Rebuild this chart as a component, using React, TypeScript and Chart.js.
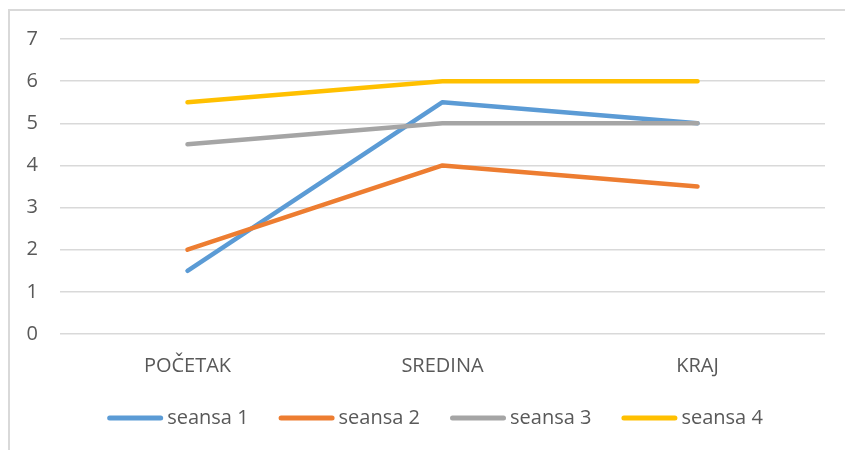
import React, { useEffect, useRef } from "react";
import { Chart, registerables } from "chart.js";

Chart.register(...registerables);

const categories = ["POČETAK", "SREDINA", "KRAJ"];
const seriesNames = ["seansa 1", "seansa 2", "seansa 3", "seansa 4"];
const seansa1 = [1.5, 5.5, 5];
const seansa2 = [2, 4, 3.5];
const seansa3 = [4.5, 5, 5];
const seansa4 = [5.5, 6, 6];
const seriesValues = [seansa1, seansa2, seansa3, seansa4];
const colors = ["#5B9BD5", "#ED7D31", "#A5A5A5", "#FFC000"];
const yMin = 0;
const yMax = 7;

const FONT = "'Open Sans', sans-serif";
const TEXT = "#595959";

const framePlugin = {
  id: "frame",
  beforeDraw(chart: any) {
    const ctx = chart.ctx;
    ctx.save();
    ctx.fillStyle = "#ffffff";
    ctx.fillRect(0, 0, chart.width, chart.height);
    ctx.strokeStyle = "#d9d9d9";
    ctx.lineWidth = 2;
    ctx.strokeRect(9, 10, chart.width + 20, chart.height + 20);
    ctx.restore();
  },
};

const legendPlugin = {
  id: "customLegend",
  afterDraw(chart: any) {
    const ctx = chart.ctx;
    ctx.save();
    ctx.font = `20px ${FONT}`;
    const lineLen = 56;
    const gapText = 4;
    const gapItem = 30;
    const ds = chart.data.datasets;
    const widths = ds.map((d: any) => ctx.measureText(d.label).width);
    let total = 0;
    widths.forEach((w: number) => (total += lineLen + gapText + w));
    total += gapItem * (ds.length - 1);
    let x = 435 - total / 2;
    const y = 418;
    ds.forEach((d: any, i: number) => {
      ctx.strokeStyle = d.borderColor;
      ctx.lineWidth = 5;
      ctx.lineCap = "round";
      ctx.beginPath();
      ctx.moveTo(x + 2.5, y);
      ctx.lineTo(x + lineLen - 2.5, y);
      ctx.stroke();
      ctx.fillStyle = TEXT;
      ctx.textBaseline = "middle";
      ctx.textAlign = "left";
      ctx.fillText(d.label, x + lineLen + gapText, y);
      x += lineLen + gapText + widths[i] + gapItem;
    });
    ctx.restore();
  },
};

export default function App() {
  const ref = useRef<HTMLCanvasElement>(null);
  useEffect(() => {
    if (!ref.current) return;
    const chart = new Chart(ref.current, {
      type: "line",
      data: {
        labels: categories,
        datasets: seriesNames.map((name, i) => ({
          label: name,
          data: seriesValues[i],
          borderColor: colors[i],
          backgroundColor: colors[i],
          borderWidth: 4.5,
          borderCapStyle: "round",
          borderJoinStyle: "round",
          pointRadius: 0,
          pointHoverRadius: 0,
          tension: 0,
          fill: false,
          order: seriesNames.length - 1 - i,
        })),
      },
      options: {
        responsive: false,
        animation: false,
        devicePixelRatio: 1,
        layout: { padding: { top: 39, right: 20, bottom: 0, left: 0 } },
        plugins: {
          legend: { display: false },
          tooltip: { enabled: false },
        },
        scales: {
          x: {
            type: "category",
            offset: true,
            grid: { display: false, drawTicks: false },
            border: { display: false },
            ticks: {
              font: { family: FONT, size: 20 },
              color: TEXT,
              padding: 20,
              maxRotation: 0,
            },
            afterFit(scale: any) {
              scale.height = 116;
            },
          },
          y: {
            min: yMin,
            max: yMax,
            grid: { color: "#d9d9d9", lineWidth: 1.5, drawTicks: false },
            border: { display: false },
            ticks: {
              stepSize: 1,
              font: { family: FONT, size: 20 },
              color: TEXT,
              padding: 22,
            },
            afterFit(scale: any) {
              scale.width = 60;
            },
          },
        },
      },
      plugins: [framePlugin, legendPlugin],
    });
    return () => chart.destroy();
  }, []);
  return (
    <div style={{ position: "fixed", left: 0, top: 0, width: 845, height: 450 }}>
      <canvas ref={ref} width={845} height={450} />
    </div>
  );
}
